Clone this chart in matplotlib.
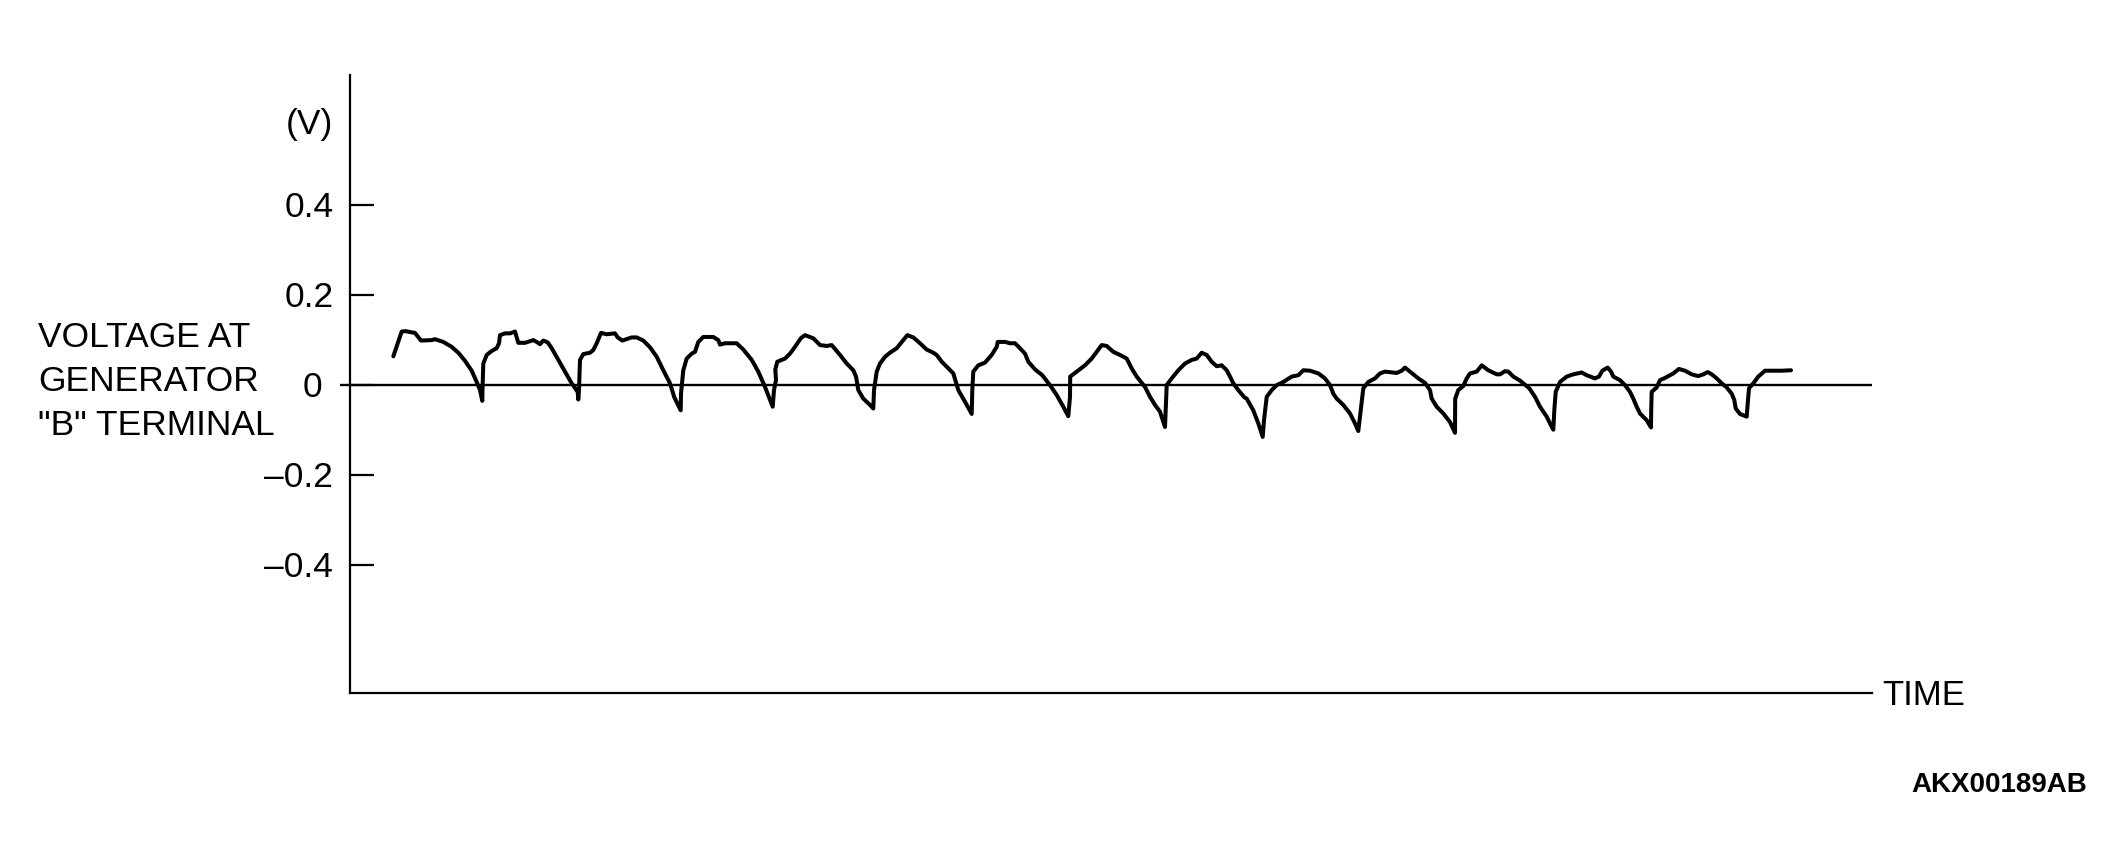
import matplotlib
matplotlib.use("Agg")
import matplotlib.pyplot as plt

plt.rcParams['font.family'] = ['Liberation Sans', 'DejaVu Sans']

# time (arbitrary units) and voltage at generator "B" terminal
time_pts = [43.3, 51.7, 55, 65, 71, 81.7, 85, 93.3, 101.7, 108.3, 115, 121.7, 126.7, 130, 132.3,
            132.5, 133.3, 136.7, 141.7, 146.7, 149, 150, 155, 160, 165, 168.3, 175, 183.3, 186.7,
            190, 193.3, 197.7, 201.7, 208.3, 215, 221.7, 227.7, 228.3,
            229, 230, 233.3, 240, 243.3, 246.7, 251, 256.7, 265, 267.7, 272.3, 281.7, 286.7,
            293.3, 300, 306.7, 313.3, 320, 324.3, 330.7,
            331, 333.3, 336.7, 341.7, 345, 348.3, 353.3, 363.3, 368.3, 370, 375, 386.7, 393.3,
            401.7, 408.3, 415, 420, 422.7,
            424, 426, 425.3, 427.3, 435, 440, 445, 450.7, 455, 463.3, 470, 476.7, 481.7, 490,
            496.7, 503.3, 506, 508.3, 513.3, 520, 523.3,
            524, 526.7, 530, 535, 540, 546.7, 553.3, 557.3, 563.3, 570, 576.7, 583.3, 586.7,
            591.7, 596.7, 603.3, 608.3, 615, 621.7,
            622.3, 623.3, 628.3, 635, 641.7, 646.7, 647.7, 655, 660, 665, 670, 675, 678.3, 685,
            692.3, 700, 706.7, 713.3, 718.3,
            720, 720.2, 726.7, 735, 741.7, 746.7, 751.7, 756.7, 763.3, 770, 776.7, 781.7, 786.7,
            795, 800, 805, 810, 815,
            815.7, 816.7, 821.7, 828.3, 835, 841.7, 846.7, 851.7, 856.7, 861.7, 866.7, 871.7,
            876.7, 880, 883.3, 888.3, 894.3, 896.7, 903.3, 908.3, 912.7,
            914, 916.7, 921.7, 926.7, 933.3, 941.7, 948.3, 953.3, 960, 968.3, 975, 980, 983.3,
            986.7, 993.3, 1000, 1005, 1008.3,
            1010.7, 1013.3, 1018.3, 1025, 1030, 1035, 1046.7, 1051.7, 1055, 1060, 1068.3, 1075,
            1080, 1081.7, 1086.7, 1093.3, 1100, 1105,
            1105.2, 1108.3, 1113.3, 1116.7, 1120, 1126.7, 1131.7, 1138.3, 1146.7, 1150, 1155,
            1158.3, 1163.3, 1170, 1179.3, 1185, 1190, 1196.7, 1200, 1203.3,
            1204.3, 1205.7, 1210, 1216.7, 1223.3, 1231.7, 1236.7, 1245, 1249, 1252.3, 1257.7,
            1261, 1263.3, 1270, 1275, 1280, 1283.3, 1286.7, 1290, 1296.7, 1301,
            1301.2, 1301.7, 1306.7, 1310, 1315, 1323.3, 1329, 1335, 1341.7, 1348.3, 1353.3,
            1357.7, 1361.7, 1366.7, 1371.7, 1376.7, 1381.7, 1384.3, 1385.7, 1390, 1396.7,
            1397.7, 1399, 1403.3, 1408.3, 1415, 1421.7, 1431.7, 1441]

volts = [0.064, 0.119, 0.120, 0.116, 0.099, 0.100, 0.102, 0.096, 0.085, 0.072, 0.054, 0.032, 0.007, -0.011, -0.035,
         -0.011, 0.048, 0.067, 0.076, 0.082, 0.093, 0.111, 0.115, 0.115, 0.119, 0.094, 0.094, 0.100, 0.096,
         0.091, 0.099, 0.095, 0.082, 0.056, 0.030, 0.004, -0.015, -0.032,
         -0.011, 0.056, 0.069, 0.072, 0.078, 0.093, 0.116, 0.113, 0.115, 0.106, 0.099, 0.106, 0.106,
         0.099, 0.084, 0.063, 0.033, 0.004, -0.027, -0.056,
         -0.019, 0.033, 0.059, 0.070, 0.074, 0.096, 0.107, 0.107, 0.100, 0.090, 0.093, 0.093, 0.079,
         0.056, 0.030, -0.004, -0.033, -0.048,
         -0.011, 0.011, 0.035, 0.052, 0.059, 0.070, 0.085, 0.104, 0.111, 0.104, 0.089, 0.087, 0.089, 0.067,
         0.048, 0.033, 0.019, -0.011, -0.030, -0.044, -0.052,
         -0.011, 0.030, 0.048, 0.063, 0.072, 0.082, 0.100, 0.111, 0.106, 0.093, 0.079, 0.072, 0.067,
         0.052, 0.041, 0.026, -0.011, -0.037, -0.064,
         -0.011, 0.030, 0.044, 0.050, 0.067, 0.085, 0.096, 0.096, 0.093, 0.093, 0.082, 0.070, 0.052, 0.035,
         0.022, 0.000, -0.022, -0.048, -0.069,
         -0.026, 0.019, 0.030, 0.044, 0.059, 0.074, 0.089, 0.087, 0.074, 0.067, 0.059, 0.037, 0.019,
         -0.004, -0.026, -0.044, -0.059, -0.093,
         -0.056, 0.000, 0.015, 0.033, 0.048, 0.056, 0.059, 0.072, 0.067, 0.052, 0.042, 0.044,
         0.033, 0.019, 0.004, -0.011, -0.027, -0.030, -0.056, -0.085, -0.115,
         -0.078, -0.026, -0.011, 0.000, 0.007, 0.019, 0.022, 0.033, 0.032, 0.026, 0.015, 0.000, -0.019,
         -0.030, -0.044, -0.063, -0.085, -0.102,
         -0.056, -0.007, 0.007, 0.015, 0.026, 0.030, 0.027, 0.032, 0.039, 0.030, 0.015, 0.005,
         -0.011, -0.030, -0.048, -0.063, -0.082, -0.106,
         -0.030, -0.011, -0.002, 0.015, 0.026, 0.030, 0.044, 0.033, 0.024, 0.024, 0.031,
         0.030, 0.019, 0.010, -0.007, -0.026, -0.048, -0.070, -0.085, -0.099,
         -0.056, -0.015, 0.007, 0.019, 0.024, 0.028, 0.022, 0.015, 0.019, 0.032, 0.039,
         0.030, 0.019, 0.011, 0.000, -0.015, -0.030, -0.048, -0.063, -0.078, -0.094,
         -0.056, -0.015, -0.005, 0.011, 0.016, 0.026, 0.036, 0.032, 0.024, 0.020, 0.024,
         0.029, 0.024, 0.015, 0.004, -0.005, -0.019, -0.033, -0.052, -0.064, -0.070,
         -0.041, -0.007, 0.004, 0.019, 0.032, 0.032, 0.032, 0.033]

y_ticks = [0.4, 0.2, 0, -0.2, -0.4]
y_tick_labels = ["0.4", "0.2", "0", "\u20130.2", "\u20130.4"]

W, H = 2124, 867
fig = plt.figure(figsize=(W / 100, H / 100), dpi=100)
ax = fig.add_axes([350 / W, 1 - 693 / H, (1872 - 350) / W, (693 - 75) / H])

ax.plot(time_pts, volts, color='black', lw=2.9, solid_joinstyle='round', solid_capstyle='round')
ax.hlines(0, -10, 1522, color='black', lw=1.7, clip_on=False)

ax.set_xlim(0, 1522)
ax.set_ylim(-0.684, 0.689)

for s in ['top', 'right']:
    ax.spines[s].set_visible(False)
for s in ['left', 'bottom']:
    ax.spines[s].set_linewidth(1.6)

ax.set_xticks([])
ax.set_yticks(y_ticks)
ax.set_yticklabels([])
ax.tick_params(axis='y', direction='in', length=17.5, width=1.6)

ytr = ax.get_yaxis_transform()
for v, lab in zip(y_ticks, y_tick_labels):
    xpos = -0.018 if v == 0 else -0.011
    ax.text(xpos, v - 0.027, lab, transform=ytr, ha='right', va='baseline', fontsize=25.5)
ax.text(-0.011, 0.558, "(V)", transform=ytr, ha='right', va='baseline', fontsize=25.5)

for i, line in enumerate(["VOLTAGE AT", "GENERATOR", "\"B\" TERMINAL"]):
    fig.text(38 / W, 1 - (347 + 44 * i) / H, line, ha='left', va='baseline', fontsize=25.5)

fig.text(1882 / W, 1 - 705 / H, "TIME", ha='left', va='baseline', fontsize=25)
fig.text(2087 / W, 1 - 792 / H, "AKX00189AB", ha='right', va='baseline', fontsize=20, fontweight='bold')

fig.savefig("out.png", dpi=100)
